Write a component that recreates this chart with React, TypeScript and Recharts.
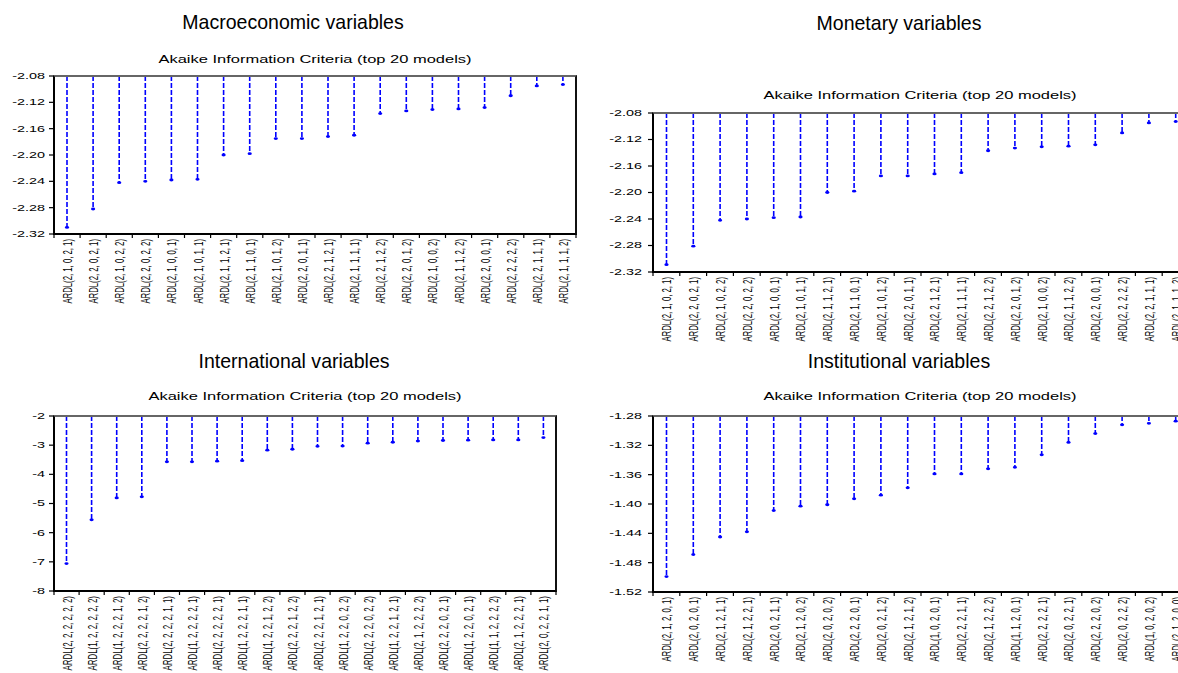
import React from "react";
import { BarChart, Bar, XAxis, YAxis, ReferenceLine } from "recharts";

// AIC of the top 20 ARDL models, one panel per variable group
const macroLabels = [
  "ARDL(2, 1, 0, 2, 1)", "ARDL(2, 2, 0, 2, 1)", "ARDL(2, 1, 0, 2, 2)", "ARDL(2, 2, 0, 2, 2)",
  "ARDL(2, 1, 0, 0, 1)", "ARDL(2, 1, 0, 1, 1)", "ARDL(2, 1, 1, 2, 1)", "ARDL(2, 1, 1, 0, 1)",
  "ARDL(2, 1, 0, 1, 2)", "ARDL(2, 2, 0, 1, 1)", "ARDL(2, 2, 1, 2, 1)", "ARDL(2, 1, 1, 1, 1)",
  "ARDL(2, 2, 1, 2, 2)", "ARDL(2, 2, 0, 1, 2)", "ARDL(2, 1, 0, 0, 2)", "ARDL(2, 1, 1, 2, 2)",
  "ARDL(2, 2, 0, 0, 1)", "ARDL(2, 2, 2, 2, 2)", "ARDL(2, 2, 1, 1, 1)", "ARDL(2, 1, 1, 1, 2)",
];
const macroAic = [
  -2.31, -2.282, -2.242, -2.24, -2.238, -2.237, -2.2, -2.198, -2.175, -2.175,
  -2.172, -2.17, -2.137, -2.133, -2.131, -2.13, -2.128, -2.11, -2.095, -2.093,
];
const macroTicks = [-2.32, -2.28, -2.24, -2.2, -2.16, -2.12, -2.08];

const monetaryLabels = [
  "ARDL(2, 1, 0, 2, 1)", "ARDL(2, 2, 0, 2, 1)", "ARDL(2, 1, 0, 2, 2)", "ARDL(2, 2, 0, 2, 2)",
  "ARDL(2, 1, 0, 0, 1)", "ARDL(2, 1, 0, 1, 1)", "ARDL(2, 1, 1, 2, 1)", "ARDL(2, 1, 1, 0, 1)",
  "ARDL(2, 1, 0, 1, 2)", "ARDL(2, 2, 0, 1, 1)", "ARDL(2, 2, 1, 2, 1)", "ARDL(2, 1, 1, 1, 1)",
  "ARDL(2, 2, 1, 2, 2)", "ARDL(2, 2, 0, 1, 2)", "ARDL(2, 1, 0, 0, 2)", "ARDL(2, 1, 1, 2, 2)",
  "ARDL(2, 2, 0, 0, 1)", "ARDL(2, 2, 2, 2, 2)", "ARDL(2, 2, 1, 1, 1)", "ARDL(2, 1, 1, 1, 2)",
];
const monetaryAic = [
  -2.309, -2.281, -2.242, -2.24, -2.238, -2.237, -2.2, -2.198, -2.175, -2.175,
  -2.172, -2.17, -2.137, -2.133, -2.131, -2.13, -2.128, -2.11, -2.095, -2.093,
];
const monetaryTicks = [-2.32, -2.28, -2.24, -2.2, -2.16, -2.12, -2.08];

const internationalLabels = [
  "ARDL(2, 2, 2, 2, 2, 2)", "ARDL(1, 2, 2, 2, 2, 2)", "ARDL(1, 2, 2, 2, 1, 2)", "ARDL(2, 2, 2, 2, 1, 2)",
  "ARDL(2, 2, 2, 2, 1, 1)", "ARDL(1, 2, 2, 2, 2, 1)", "ARDL(2, 2, 2, 2, 2, 1)", "ARDL(1, 2, 2, 2, 1, 1)",
  "ARDL(1, 2, 2, 1, 2, 2)", "ARDL(2, 2, 2, 1, 2, 2)", "ARDL(2, 2, 2, 1, 2, 1)", "ARDL(1, 2, 2, 0, 2, 2)",
  "ARDL(2, 2, 2, 0, 2, 2)", "ARDL(1, 2, 2, 1, 2, 1)", "ARDL(2, 1, 2, 2, 2, 2)", "ARDL(2, 2, 2, 0, 2, 1)",
  "ARDL(1, 2, 2, 0, 2, 1)", "ARDL(1, 1, 2, 2, 2, 2)", "ARDL(2, 1, 2, 2, 2, 1)", "ARDL(2, 0, 2, 2, 1, 1)",
];
const internationalAic = [
  -7.06, -5.56, -4.81, -4.77, -3.57, -3.57, -3.55, -3.53, -3.17, -3.14,
  -3.04, -3.03, -2.93, -2.9, -2.86, -2.84, -2.83, -2.82, -2.82, -2.74,
];
const internationalTicks = [-8, -7, -6, -5, -4, -3, -2];

const institutionalLabels = [
  "ARDL(2, 1, 2, 0, 1)", "ARDL(2, 0, 2, 0, 1)", "ARDL(2, 1, 2, 1, 1)", "ARDL(2, 1, 2, 2, 1)",
  "ARDL(2, 0, 2, 1, 1)", "ARDL(2, 1, 2, 0, 2)", "ARDL(2, 0, 2, 0, 2)", "ARDL(2, 2, 2, 0, 1)",
  "ARDL(2, 0, 2, 1, 2)", "ARDL(2, 1, 2, 1, 2)", "ARDL(1, 0, 2, 0, 1)", "ARDL(2, 2, 2, 1, 1)",
  "ARDL(2, 1, 2, 2, 2)", "ARDL(1, 1, 2, 0, 1)", "ARDL(2, 2, 2, 2, 1)", "ARDL(2, 0, 2, 2, 1)",
  "ARDL(2, 2, 2, 0, 2)", "ARDL(2, 0, 2, 2, 2)", "ARDL(1, 0, 2, 0, 2)", "ARDL(2, 1, 2, 0, 0)",
];
const institutionalAic = [
  -1.499, -1.469, -1.445, -1.438, -1.409, -1.403, -1.401, -1.393, -1.388, -1.378,
  -1.359, -1.359, -1.352, -1.35, -1.333, -1.316, -1.304, -1.292, -1.29, -1.287,
];
const institutionalTicks = [-1.52, -1.48, -1.44, -1.4, -1.36, -1.32, -1.28];

const FONT = "'Liberation Sans', Arial, sans-serif";
const BLUE = "#0000ff";
const STRETCH = 1.6; // the eviews graphs were pasted stretched sideways

const Y_AXIS_W = 60;
const X_AXIS_H = 100;
const M_TOP = 4;
const M_RIGHT = 4;

function Stem(props: any) {
  const { x, y, width, height } = props;
  const cx = x + width / 2;
  const y0 = Math.min(y, y + height);
  const y1 = Math.max(y, y + height);
  return (
    <g>
      <line x1={cx} x2={cx} y1={y0} y2={y1} stroke={BLUE} strokeWidth={1.6} strokeDasharray="5 2" />
      <ellipse cx={cx} cy={y1} rx={2.1} ry={1.4} fill={BLUE} />
    </g>
  );
}

function Panel({ labels, values, ticks, decimals, plotLeft, plotTop, plotWidth, plotHeight, labelSize, tickGap }: any) {
  const data = labels.map((label: string, i: number) => ({ label, aic: values[i] }));
  const band = plotWidth / labels.length;
  const last = labels.length - 1;
  const yMin = ticks[0];
  const yMax = ticks[ticks.length - 1];

  const xTick = (p: any) => {
    const { x, y, payload, index } = p;
    return (
      <g>
        <line x1={x - band / 2} x2={x - band / 2} y1={y} y2={y + 4} stroke="#000" strokeWidth={1.2} />
        {index === last && <line x1={x + band / 2} x2={x + band / 2} y1={y} y2={y + 4} stroke="#000" strokeWidth={1.2} />}
        <text
          transform={`translate(${x + 5},${y + 5}) rotate(-90) scale(1,${STRETCH})`}
          textAnchor="end"
          fontSize={labelSize}
          fontFamily={FONT}
          fill="#000"
        >
          {payload.value}
        </text>
      </g>
    );
  };

  const yTick = (p: any) => {
    const { x, y, payload } = p;
    return (
      <text
        transform={`translate(${x},${y}) scale(${STRETCH},1)`}
        textAnchor="end"
        dominantBaseline="central"
        fontSize={9}
        fontFamily={FONT}
        fill="#000"
      >
        {Number(payload.value).toFixed(decimals)}
      </text>
    );
  };

  return (
    <>
      <div style={{ position: "absolute", left: plotLeft - Y_AXIS_W, top: plotTop - M_TOP }}>
        <BarChart
          width={Y_AXIS_W + plotWidth + M_RIGHT}
          height={M_TOP + plotHeight + X_AXIS_H}
          data={data}
          margin={{ top: M_TOP, right: M_RIGHT, bottom: 0, left: 0 }}
          barCategoryGap={0}
        >
          <XAxis
            dataKey="label"
            interval={0}
            height={X_AXIS_H}
            tickLine={false}
            tickSize={0}
            tickMargin={0}
            axisLine={{ stroke: "#000", strokeWidth: 2 }}
            tick={xTick}
          />
          <YAxis
            type="number"
            domain={[yMin, yMax]}
            ticks={ticks}
            interval={0}
            width={Y_AXIS_W}
            tickSize={5}
            tickMargin={tickGap}
            axisLine={{ stroke: "#000", strokeWidth: 2 }}
            tickLine={{ stroke: "#000", strokeWidth: 1.2 }}
            tick={yTick}
          />
          <ReferenceLine y={yMax} stroke="#666" strokeWidth={1.5} />
          <Bar dataKey="aic" isAnimationActive={false} shape={Stem} />
        </BarChart>
      </div>
      {/* plot frame */}
      <div
        style={{
          position: "absolute",
          left: plotLeft - 1,
          top: plotTop - 1,
          width: plotWidth + 2,
          height: plotHeight + 2,
          boxSizing: "border-box",
          borderLeft: "2px solid #000",
          borderBottom: "2px solid #000",
          borderRight: "2px solid #111",
          borderTop: "2px solid #666",
          pointerEvents: "none",
        }}
      />
    </>
  );
}

function Title({ text, cx, cy }: { text: string; cx: number; cy: number }) {
  return (
    <div
      style={{
        position: "absolute",
        left: cx,
        top: cy,
        transform: "translate(-50%, -50%) scaleX(0.93)",
        fontFamily: FONT,
        fontSize: 21,
        lineHeight: 1,
        whiteSpace: "nowrap",
        color: "#000",
      }}
    >
      {text}
    </div>
  );
}

function Subtitle({ cx, cy }: { cx: number; cy: number }) {
  return (
    <div
      style={{
        position: "absolute",
        left: cx,
        top: cy,
        transform: `translate(-50%, -50%) scaleX(${STRETCH})`,
        fontFamily: FONT,
        fontSize: 10.3,
        lineHeight: 1,
        whiteSpace: "nowrap",
        color: "#000",
      }}
    >
      Akaike Information Criteria (top 20 models)
    </div>
  );
}

export default function App() {
  return (
    <div
      style={{
        position: "absolute",
        left: 0,
        top: 0,
        width: 1178,
        height: 673,
        overflow: "hidden",
        background: "#fff",
      }}
    >
      <Title text="Macroeconomic variables" cx={293} cy={21} />
      <Title text="Monetary variables" cx={899} cy={22} />
      <Title text="International variables" cx={294} cy={360} />
      <Title text="Institutional variables" cx={899} cy={360} />

      <Subtitle cx={315} cy={60} />
      <Subtitle cx={920} cy={96} />
      <Subtitle cx={305} cy={397} />
      <Subtitle cx={920} cy={397} />

      <Panel labels={macroLabels} values={macroAic} ticks={macroTicks} decimals={2}
        plotLeft={54} plotTop={76} plotWidth={522} plotHeight={158} labelSize={7.75} tickGap={4} />
      <Panel labels={monetaryLabels} values={monetaryAic} ticks={monetaryTicks} decimals={2}
        plotLeft={653} plotTop={113} plotWidth={536} plotHeight={159} labelSize={7.75} tickGap={6} />
      <Panel labels={internationalLabels} values={internationalAic} ticks={internationalTicks} decimals={0}
        plotLeft={54} plotTop={416} plotWidth={502} plotHeight={175} labelSize={7.9} tickGap={4} />
      <Panel labels={institutionalLabels} values={institutionalAic} ticks={institutionalTicks} decimals={2}
        plotLeft={653} plotTop={416} plotWidth={536} plotHeight={176} labelSize={7.75} tickGap={6} />
    </div>
  );
}
